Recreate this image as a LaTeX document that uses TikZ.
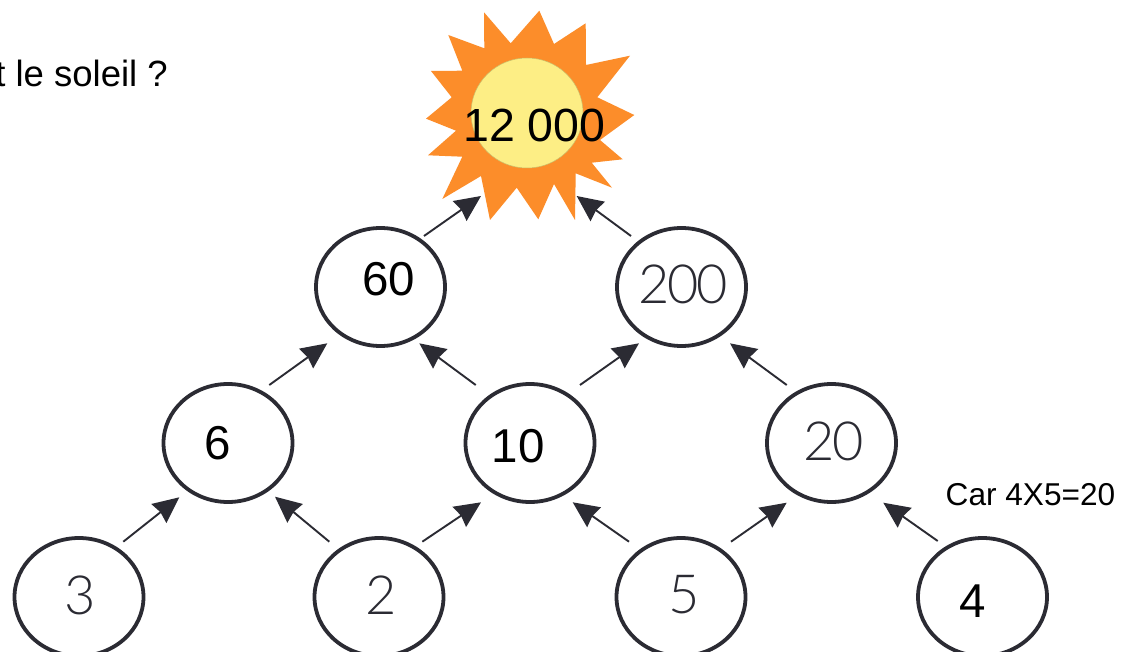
\documentclass[tikz,border=0pt]{standalone}
\usepackage{fontspec}
\setmainfont{Liberation Sans}
\newfontfamily\thindigits[LetterSpace=-4.5]{Lato Light}
\usetikzlibrary{shapes.geometric,arrows.meta,calc}
\definecolor{ink}{HTML}{2B2B33}
\definecolor{sunorange}{HTML}{FC8D2A}
\definecolor{sunyellow}{HTML}{FDEE85}
\definecolor{fadedtext}{HTML}{2B2B33}
\tikzset{
  num/.style={draw=ink,line width=3.8pt,ellipse,minimum width=129pt,minimum height=118pt,inner sep=0pt,fill=white},
  fz/.style={font=\fontsize{#1}{#1}\selectfont},
  blackval/.style={fz=47.5,text=black,inner sep=0pt},
  fadedval/.style={font=\fontsize{54}{54}\selectfont\thindigits,text=fadedtext,inner sep=0pt},
  arr/.style={draw=ink,line width=1.9pt,-{Stealth[length=26pt,width=24pt,inset=2pt]}},
  hidden/.style={ellipse,minimum size=192pt,inner sep=0pt}
}
\begin{document}
\begin{tikzpicture}[x=1pt,y=-1pt]
\useasboundingbox (0,0) rectangle (1131,652);
\fill[white] (0,0) rectangle (1131,652);
% sun
\fill[sunorange] (539.3,10.7)--(554,44)--(585.7,23.3)--(586,65)--(630,55.7)--(597.3,97.3)--(634.3,115)--(600,140)--(622.7,159.3)--(591.7,162.7)--(612,187.7)--(575.7,173.3)--(575,220)--(554,184)--(538.3,219.3)--(516.7,187.7)--(490,220)--(481,176)--(442.3,199)--(462.3,156.7)--(428,155.3)--(456,130.7)--(426,118.7)--(451.7,97.3)--(431,71)--(462.3,70.7)--(448.3,35)--(484.3,48.3)--(484,12.3)--(510.7,43.3)--cycle;
\node[ellipse,fill=sunyellow,draw=sunyellow!80!black,line width=0.5pt,minimum width=112pt,minimum height=110pt] (disc) at (527,113) {};
\node[hidden] (sun) at (527,113) {};
\node[blackval,fz=46.5] (sunlabel) at (534.5,125) {12 000};
% nodes
\node[num] (n60) at (380.5,287) {};
\node[num] (n200) at (681.5,287) {};
\node[num] (n6) at (228,443) {};
\node[num] (n10) at (530,443) {};
\node[num] (n20) at (831.5,443) {};
\node[num] (n3) at (79,597) {};
\node[num] (n2) at (379,597) {};
\node[num] (n5) at (681,597) {};
\node[num] (n4) at (982.5,597) {};
% values
\node[blackval] (t60) at (388.7,279.2) {60};
\node[fadedval] (t200) at (683.3,284.7) {200};
\node[blackval] (t6) at (217.5,443) {6};
\node[blackval] (t10) at (518,445.7) {10};
\node[fadedval] (t20) at (834,441) {20};
\node[fadedval] (t3) at (80.3,595) {3};
\node[fadedval] (t2) at (381,595) {2};
\node[fadedval] (t5) at (684.5,595) {5};
\node[blackval] (t4) at (972.5,600.8) {4};
% arrows
\draw[arr] ($(n3)+(44.3,-55.3)$) -- ($(n6)+(-48.7,54.3)$);
\draw[arr] ($(n2)+(-49.7,-55.3)$) -- ($(n6)+(47,53.7)$);
\draw[arr] ($(n2)+(43.3,-55.3)$) -- ($(n10)+(-49,59.3)$);
\draw[arr] ($(n5)+(-52,-55.3)$) -- ($(n10)+(42.7,59.3)$);
\draw[arr] ($(n5)+(50,-55.3)$) -- ($(n20)+(-44.8,59.7)$);
\draw[arr] ($(n4)+(-44.8,-56)$) -- ($(n20)+(51.8,59.7)$);
\draw[arr] ($(n6)+(41.3,-58)$) -- ($(n60)+(-53.2,56.3)$);
\draw[arr] ($(n10)+(-54.3,-58)$) -- ($(n60)+(38.8,56.3)$);
\draw[arr] ($(n10)+(50,-58)$) -- ($(n200)+(-42.5,56.3)$);
\draw[arr] ($(n20)+(-44.8,-58)$) -- ($(n200)+(48.5,56.3)$);
\draw[arr] ($(n60)+(43.5,-51)$) -- ($(sun)+(-46,83)$);
\draw[arr] ($(n200)+(-50.5,-51)$) -- ($(sun)+(49.7,83)$);
% texts
\node[fz=36.5,anchor=base east,inner sep=0pt] (question) at (168,87) {t le soleil ?};
\node[fz=31.6,anchor=base west,inner sep=0pt] (car) at (945.5,505) {Car 4X5=20};
\end{tikzpicture}
\end{document}
